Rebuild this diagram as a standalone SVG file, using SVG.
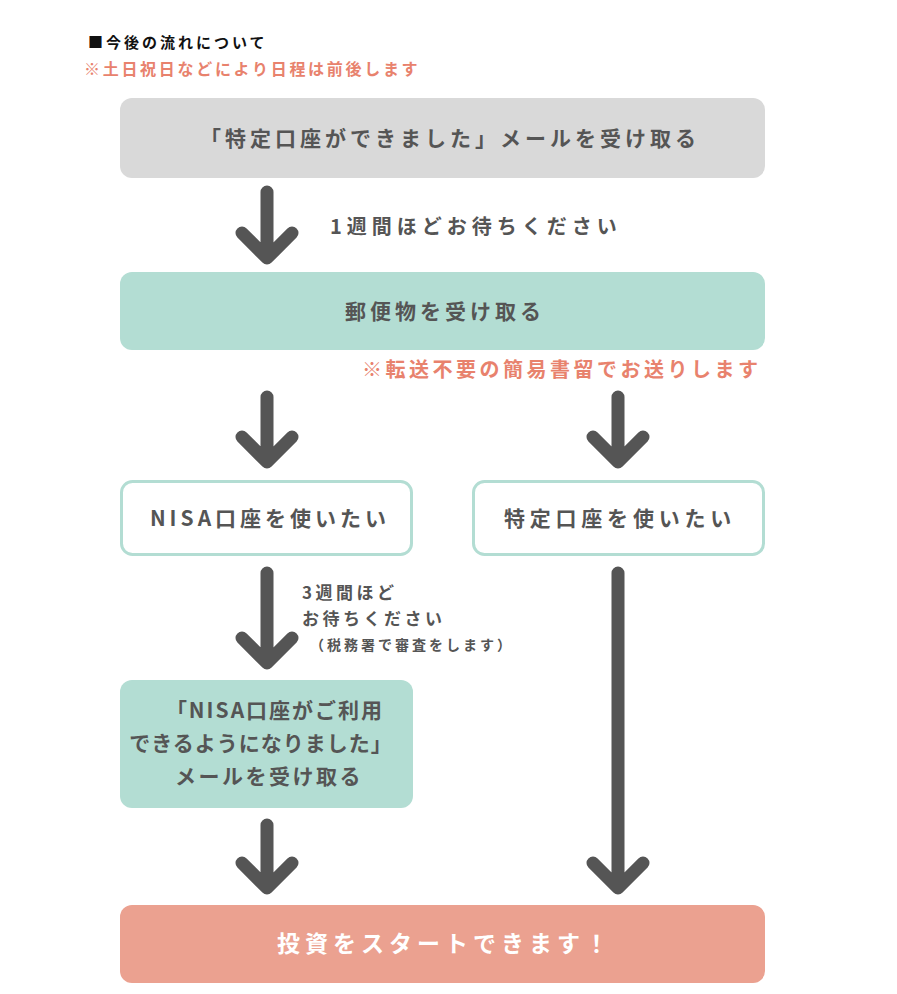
<svg xmlns="http://www.w3.org/2000/svg" width="897" height="994" viewBox="0 0 897 994">
<style>
text{font-family:"Noto Sans CJK JP","Noto Sans",sans-serif;font-weight:bold;fill:#555}
.t{font-size:21px;text-anchor:middle;letter-spacing:4px}
.s{font-size:17px;letter-spacing:3.5px}
.n{fill:#e8826d}
.ar{fill:none;stroke:#555;stroke-width:13;stroke-linecap:round;stroke-linejoin:round}
</style>
<rect width="897" height="994" fill="#fff"/>
<text x="88" y="48" font-size="15" letter-spacing="3" style="fill:#111">■今後の流れについて</text>
<text x="84" y="75" font-size="16" letter-spacing="2.7" class="n">※土日祝日などにより日程は前後します</text>
<g id="n1"><rect x="120" y="98" width="645" height="80" rx="12" fill="#d9d9d9"/><text class="t" x="450" y="146">「特定口座ができました」メールを受け取る</text></g>
<g id="n2"><rect x="120" y="272" width="645" height="78" rx="12" fill="#b3ddd3"/><text class="t" x="445" y="319">郵便物を受け取る</text></g>
<text x="362" y="377" font-size="20" letter-spacing="3.5" class="n">※転送不要の簡易書留でお送りします</text>
<g id="n3"><rect x="121.5" y="481.5" width="290" height="73" rx="11" fill="#fff" stroke="#b3ddd3" stroke-width="3"/><text class="t" x="270" y="526">NISA口座を使いたい</text></g>
<g id="n4"><rect x="473.5" y="481.5" width="290" height="73" rx="11" fill="#fff" stroke="#b3ddd3" stroke-width="3"/><text class="t" x="620" y="526" style="letter-spacing:4.8px">特定口座を使いたい</text></g>
<g id="n5"><rect x="120" y="680" width="293" height="128" rx="12" fill="#b3ddd3"/><text class="t" x="275" y="718" style="letter-spacing:2px">「NISA口座がご利用</text><text class="t" x="261" y="751" style="letter-spacing:1px">できるようになりました」</text><text class="t" x="269" y="784" style="letter-spacing:2.5px">メールを受け取る</text></g>
<g id="n6"><rect x="120" y="905" width="645" height="78" rx="12" fill="#eba190"/><text class="t" x="445" y="952" style="fill:#fff;font-size:23px;letter-spacing:5px">投資をスタートできます！</text></g>
<text x="330" y="234" font-size="20" letter-spacing="5">1週間ほどお待ちください</text>
<text x="302" y="599" class="s">3週間ほど</text>
<text x="302" y="625" class="s">お待ちください</text>
<text x="310" y="650" font-size="14" letter-spacing="3">（税務署で審査をします）</text>
<g id="connectors">
<path class="ar" d="M267 192V258M242 233L267 258L292 233"/>
<path class="ar" d="M267 397V462M242 437L267 462L292 437"/>
<path class="ar" d="M618 397V462M593 437L618 462L643 437"/>
<path class="ar" d="M267 573V663M242 638L267 663L292 638"/>
<path class="ar" d="M618 573V888M593 863L618 888L643 863"/>
<path class="ar" d="M267 825V888M242 863L267 888L292 863"/>
</g>
</svg>
